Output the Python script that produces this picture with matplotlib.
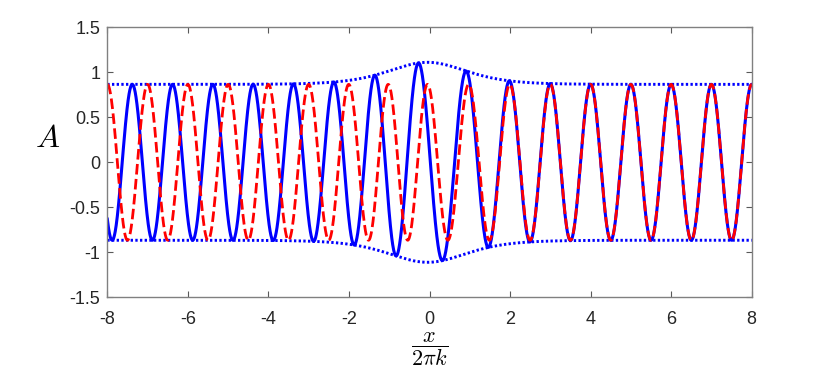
import matplotlib
matplotlib.use('Agg')
import matplotlib.pyplot as plt
import numpy as np

# Values
x_range = [-8, 8]
y_range = [-1.5, 1.5]
x_ticks = [-8, -6, -4, -2, 0, 2, 4, 6, 8]
y_ticks = [-1.5, -1, -0.5, 0, 0.5, 1, 1.5]
y_tick_labels = ['-1.5', '-1', '-0.5', '0', '0.5', '1', '1.5']

far_amplitude = 0.866          # amplitude away from the pulse
bump_height = 0.245            # extra amplitude at the pulse peak
bump_center = -0.05
bump_width = 1.3
phase_left = 0.38              # blue phase lead on the left, in units of pi
phase_center = 0.25
phase_width = 1.1
red_phase_peak = 0.10          # small phase bump on the red curve, in units of pi
red_phase_width = 1.2


def sech2(u):
    return 1.0 / np.cosh(u) ** 2


def make_plot():
    plt.rcParams['font.family'] = ['Liberation Sans', 'DejaVu Sans']
    plt.rcParams['mathtext.fontset'] = 'cm'
    plt.rcParams['axes.unicode_minus'] = False

    x = np.linspace(x_range[0], x_range[1], 4000)
    envelope = far_amplitude + bump_height * sech2((x - bump_center) / bump_width)
    theta = phase_left * np.pi * (1 - np.tanh((x - phase_center) / phase_width))
    psi = red_phase_peak * np.pi * sech2(x / red_phase_width)

    blue = envelope * np.cos(2 * np.pi * x + theta)
    red = far_amplitude * np.cos(2 * np.pi * x + psi)

    fig = plt.figure(figsize=(8.3, 3.69), dpi=100)
    ax = fig.add_axes([0.1293, 0.1943, 0.7764, 0.7317])

    # envelope
    ax.plot(x, envelope, color='blue', lw=2.1, linestyle=(0, (0.8, 0.8)))
    ax.plot(x, -envelope, color='blue', lw=2.1, linestyle=(0, (0.8, 0.8)))
    # waves
    ax.plot(x, blue, color='blue', lw=2.2)
    ax.plot(x, red, color='red', lw=2.0, linestyle=(0, (3.8, 1.6)))

    ax.set_xlim(x_range)
    ax.set_ylim(y_range)
    ax.set_xticks(x_ticks)
    ax.set_xticklabels([str(t) for t in x_ticks])
    ax.set_yticks(y_ticks)
    ax.set_yticklabels(y_tick_labels)

    for s in ax.spines.values():
        s.set_color('0.5')
        s.set_linewidth(1.0)
    ax.tick_params(direction='in', length=4.5, width=0.8, color='0.35',
                   top=True, right=True, labelsize=13, labelcolor='#262626')
    ax.tick_params(axis='x', pad=10)
    ax.tick_params(axis='y', pad=5)

    ax.set_ylabel('$A$', fontsize=23, rotation=0, va='center', ha='center')
    ax.yaxis.set_label_coords(-0.093, 0.585)
    ax.set_xlabel(r'$\dfrac{x}{2\pi k}$', fontsize=16, va='center')
    ax.xaxis.set_label_coords(0.5, -0.19)

    fig.savefig('out.png', dpi=100)


if __name__ == "__main__":
    make_plot()
